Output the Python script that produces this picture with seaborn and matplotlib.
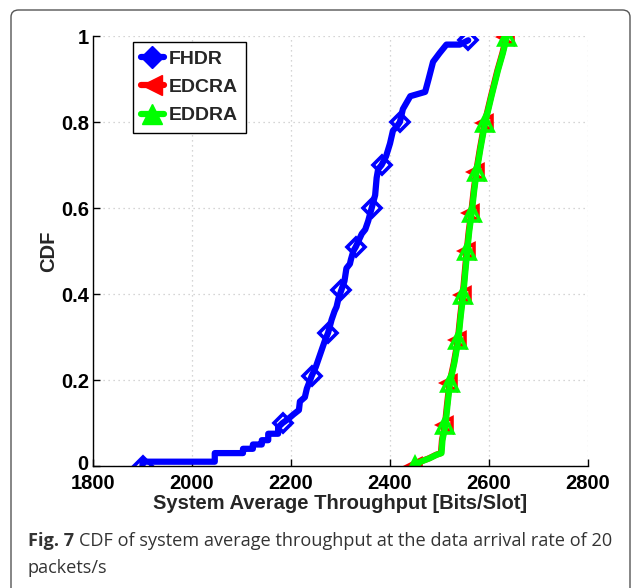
import matplotlib
matplotlib.use("Agg")
import matplotlib.pyplot as plt
import matplotlib.transforms as mtransforms
import seaborn as sns
from matplotlib.lines import Line2D
from matplotlib.patches import FancyBboxPatch

# ---------------- data ----------------
fhdr_x = [1900, 1900, 2046, 2046, 2103, 2103, 2123, 2123, 2141, 2141, 2154, 2154,
          2174, 2174, 2183, 2195, 2205, 2216, 2218, 2228, 2232, 2242, 2250, 2256,
          2262, 2268, 2275, 2282, 2288, 2292, 2296, 2302, 2308, 2312, 2319, 2321,
          2326, 2331, 2343, 2350, 2356, 2363, 2370, 2373, 2376, 2383, 2392, 2400,
          2406, 2414, 2420, 2426, 2436, 2441, 2471, 2478, 2487, 2500, 2514, 2541, 2558]
fhdr_y = [0, 0.01, 0.01, 0.03, 0.03, 0.04, 0.04, 0.05, 0.05, 0.06, 0.06, 0.075,
          0.075, 0.09, 0.10, 0.11, 0.12, 0.13, 0.15, 0.16, 0.18, 0.21, 0.23, 0.25,
          0.27, 0.29, 0.31, 0.34, 0.36, 0.37, 0.39, 0.41, 0.43, 0.46, 0.47, 0.48,
          0.50, 0.51, 0.54, 0.55, 0.57, 0.60, 0.63, 0.67, 0.69, 0.70, 0.72, 0.75,
          0.78, 0.79, 0.80, 0.83, 0.85, 0.86, 0.87, 0.90, 0.94, 0.96, 0.98, 0.98, 0.99]
fhdr_marks = [0, 14, 21, 26, 31, 37, 41, 45, 50, 60]

edcra_x = [2449, 2461, 2479, 2493, 2503, 2505, 2511, 2515, 2520, 2529, 2537, 2542,
           2547, 2551, 2555, 2559, 2564, 2569, 2574, 2582, 2591, 2604, 2617, 2627, 2635]
edcra_y = [0.0, 0.01, 0.018, 0.026, 0.03, 0.06, 0.095, 0.14, 0.192, 0.24, 0.293, 0.35,
           0.398, 0.45, 0.50, 0.545, 0.588, 0.64, 0.684, 0.74, 0.797, 0.86, 0.92, 0.96, 0.998]
eddra_x = [2450, 2462, 2480, 2494, 2504, 2506, 2512, 2516, 2521, 2530, 2538, 2543,
           2548, 2552, 2556, 2560, 2565, 2570, 2575, 2583, 2592, 2605, 2618, 2628, 2636]
eddra_y = [0.0, 0.01, 0.018, 0.026, 0.03, 0.06, 0.095, 0.14, 0.192, 0.24, 0.293, 0.35,
           0.398, 0.45, 0.50, 0.545, 0.588, 0.64, 0.684, 0.74, 0.797, 0.86, 0.92, 0.96, 0.998]
ed_marks = [0, 6, 8, 10, 12, 14, 16, 18, 20, 24]

x_ticks = [1800, 2000, 2200, 2400, 2600, 2800]
y_ticks = [0, 0.2, 0.4, 0.6, 0.8, 1.0]
y_tick_labels = ["0", "0.2", "0.4", "0.6", "0.8", "1"]
series_names = ["FHDR", "EDCRA", "EDDRA"]
colors = ["#0000ff", "#ff0000", "#00ff00"]

# ---------------- figure ----------------
sns.set_style("white")
plt.rcParams["font.family"] = ["Liberation Sans", "DejaVu Sans"]

W, H = 636, 588
fig = plt.figure(figsize=(W / 100, H / 100), dpi=100)

# outer rounded frame
frame = FancyBboxPatch((11 / W, -0.05), (630 - 11) / W, (1 - 10 / H) + 0.05,
                       boxstyle="round,pad=0,rounding_size=0.012",
                       transform=fig.transFigure, fill=False,
                       edgecolor="#555555", linewidth=1.0, clip_on=False)
fig.patches.append(frame)

ax = fig.add_axes([93 / W, (H - 466) / H, 495 / W, 430 / H])

lw = 4.5
fs = 14.5
sns.lineplot(x=fhdr_x, y=fhdr_y, sort=False, estimator=None, ax=ax,
             color=colors[0], linewidth=lw, marker="D", markevery=fhdr_marks,
             markersize=9.5, markerfacecolor="none", markeredgecolor=colors[0],
             markeredgewidth=2.6, legend=False)
sns.lineplot(x=edcra_x, y=edcra_y, sort=False, estimator=None, ax=ax,
             color=colors[1], linewidth=lw, marker="<", markevery=ed_marks,
             markersize=10.5, markerfacecolor="none", markeredgecolor=colors[1],
             markeredgewidth=2.6, legend=False)
sns.lineplot(x=eddra_x, y=eddra_y, sort=False, estimator=None, ax=ax,
             color=colors[2], linewidth=lw, marker="^", markevery=ed_marks,
             markersize=12, markerfacecolor="none", markeredgecolor=colors[2],
             markeredgewidth=2.6, legend=False)

ax.set_xlim(1800, 2800)
ax.set_ylim(0, 1)
ax.set_xticks(x_ticks)
ax.set_xticklabels([str(v) for v in x_ticks])
ax.set_yticks(y_ticks)
ax.set_yticklabels(y_tick_labels)
ax.grid(True, linestyle=(0, (1, 3)), color="#c8c8c8", linewidth=0.9)
for s in ["top", "right"]:
    ax.spines[s].set_visible(False)
for s in ["left", "bottom"]:
    ax.spines[s].set_color("black")
    ax.spines[s].set_linewidth(1.0)
ax.tick_params(direction="in", length=5, width=1, labelsize=fs, colors="black",
               left=True, bottom=True)
ax.tick_params(axis="x", pad=6)
ax.tick_params(axis="y", pad=3)
for lab in ax.get_xticklabels() + ax.get_yticklabels():
    lab.set_fontweight("bold")
# nudge the "0" y tick label slightly up (as in the reference)
zero_lab = ax.get_yticklabels()[0]
zero_lab.set_transform(zero_lab.get_transform() +
                       mtransforms.ScaledTranslation(0, 3.5 / 100, fig.dpi_scale_trans))

ax.set_xlabel("System Average Throughput [Bits/Slot]", fontsize=fs,
              fontweight="bold", labelpad=0.5)
ax.set_ylabel("CDF", fontsize=fs, fontweight="bold", labelpad=2)

handles = [
    Line2D([], [], color=colors[0], lw=lw, marker="D", markersize=11,
           markerfacecolor=colors[0], markeredgecolor=colors[0]),
    Line2D([], [], color=colors[1], lw=lw, marker="<", markersize=14,
           markerfacecolor=colors[1], markeredgecolor=colors[1]),
    Line2D([], [], color=colors[2], lw=lw, marker="^", markersize=14,
           markerfacecolor=colors[2], markeredgecolor=colors[2]),
]
leg = ax.legend(handles, series_names, loc="upper left",
                bbox_to_anchor=((133 - 93) / 495, (466 - 42) / 430),
                borderaxespad=0, frameon=True, fancybox=False,
                edgecolor="black", framealpha=1, handlelength=1.15,
                handletextpad=0.25, labelspacing=0.55, borderpad=0.42,
                prop={"family": "Liberation Sans", "weight": "bold", "size": 14})
leg.get_frame().set_linewidth(1.0)

# caption
cap_font = ["Open Sans", "DejaVu Sans"]
cap_fs = 13.1
cy1 = 1 - 541 / H
t1 = fig.text(28 / W, cy1, "Fig. 7", fontsize=cap_fs, fontweight="bold",
              family=cap_font, color="#333333", va="center")
fig.canvas.draw()
bb = t1.get_window_extent(renderer=fig.canvas.get_renderer())
fig.text(bb.x1 / W + 5 / W, cy1,
         "CDF of system average throughput at the data arrival rate of 20",
         fontsize=cap_fs, family=cap_font, color="#333333", va="center")
fig.text(28 / W, 1 - 568 / H, "packets/s", fontsize=cap_fs, family=cap_font,
         color="#333333", va="center")

fig.savefig("out.png", dpi=100)
